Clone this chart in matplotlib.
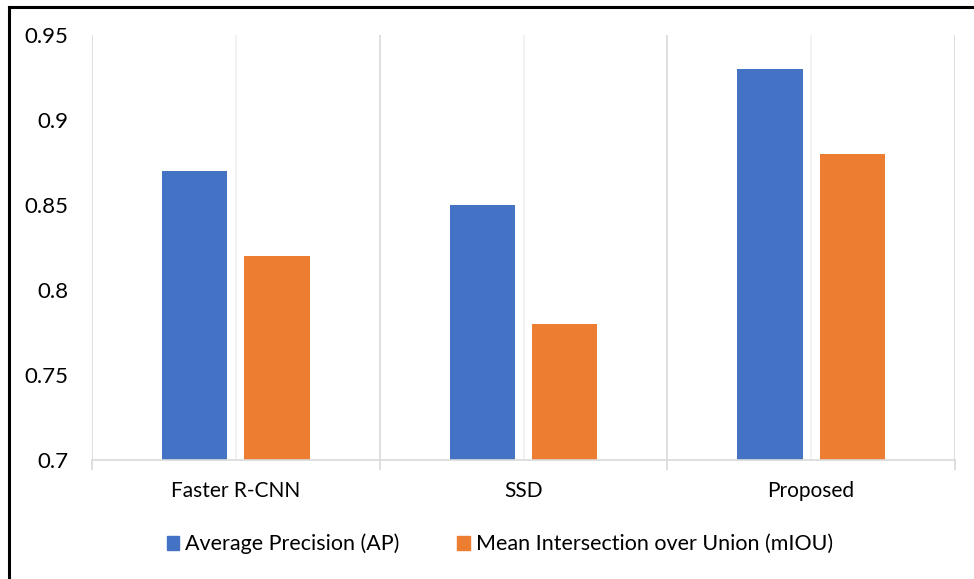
import matplotlib
matplotlib.use('Agg')
import matplotlib.pyplot as plt
from matplotlib.lines import Line2D
from matplotlib.patches import Patch
import numpy as np

plt.rcParams['font.family'] = ['Lato', 'DejaVu Sans']

categories = ['Faster R-CNN', 'SSD', 'Proposed']
ap_values = [0.87, 0.85, 0.93]
miou_values = [0.82, 0.78, 0.88]
series_names = ['Average Precision (AP)', 'Mean Intersection over Union (mIOU)']
y_ticks = [0.7, 0.75, 0.8, 0.85, 0.9, 0.95]
y_tick_labels = ['0.7', '0.75', '0.8', '0.85', '0.9', '0.95']

blue = '#4472c4'
orange = '#ed7d31'

fig = plt.figure(figsize=(9.74, 5.79), dpi=100)
ax = fig.add_axes([92 / 974, 1 - 460 / 579, (955 - 92) / 974, (460 - 35) / 579])

x = np.arange(len(categories))
w = 0.227
off = 0.143
ax.bar(x - off, ap_values, w, color=blue, zorder=3)
ax.bar(x + off, miou_values, w, color=orange, zorder=3)

ax.set_xlim(-0.5, len(categories) - 0.5)
ax.set_ylim(0.7, 0.95)

# category boundary lines (major) and center lines (minor)
ax.set_xticks(np.arange(-0.5, len(categories), 1.0))
ax.set_xticklabels([])
ax.set_xticks(x, minor=True)
ax.set_xticklabels(categories, minor=True, fontsize=15)
ax.tick_params(axis='x', which='major', length=7, color='#d9d9d9', width=1.2)
ax.tick_params(axis='x', which='minor', length=0, pad=15)
ax.grid(axis='x', which='major', color='#d9d9d9', linewidth=1.2, zorder=0)
ax.grid(axis='x', which='minor', color='#f0f0f0', linewidth=1.2, zorder=0)

ax.set_yticks(y_ticks)
ax.set_yticklabels(y_tick_labels, fontsize=16)
ax.tick_params(axis='y', length=0, pad=17)

for s in ['top', 'right', 'left']:
    ax.spines[s].set_visible(False)
ax.spines['bottom'].set_color('#d9d9d9')
ax.spines['bottom'].set_linewidth(1.2)
ax.spines['bottom'].set_zorder(4)

handles = [Patch(color=blue), Patch(color=orange)]
fig.legend(handles, series_names, loc='center', bbox_to_anchor=(0.513, 1 - 544 / 579),
           ncol=2, frameon=False, fontsize=15.5, handlelength=0.6, handleheight=0.6,
           handletextpad=0.25, columnspacing=2.7)

# outer border on left and top edges
fig.add_artist(Line2D([8.5 / 974, 8.5 / 974], [0, 1 - 6.5 / 579], color='black', linewidth=2.2))
fig.add_artist(Line2D([8.5 / 974, 1], [1 - 6.5 / 579, 1 - 6.5 / 579], color='black', linewidth=2.2))

fig.savefig('out.png', dpi=100)
